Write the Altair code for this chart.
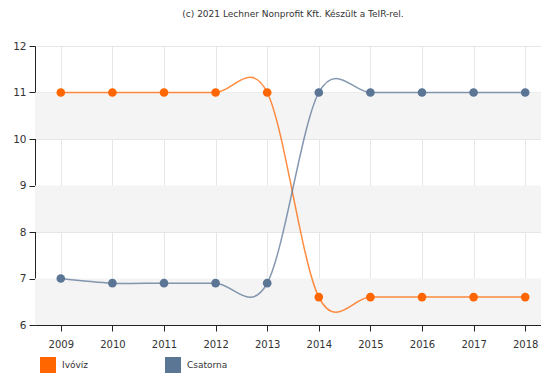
import altair as alt
import pandas as pd

years = ["2009", "2010", "2011", "2012", "2013", "2014", "2015", "2016", "2017", "2018"]
ivoviz = [11, 11, 11, 11, 11, 6.6, 6.6, 6.6, 6.6, 6.6]
csatorna = [7, 6.9, 6.9, 6.9, 6.9, 11, 11, 11, 11, 11]
series = ["Ivóvíz", "Csatorna"]
colors = ["#ff6600", "#5b7595"]
band_lo = [6, 8, 10]
band_hi = [7, 9, 11]
title_text = "(c) 2021 Lechner Nonprofit Kft. Készült a TeIR-rel."

rows = []
for y, a, b in zip(years, ivoviz, csatorna):
    rows.append({"ev": y, "ertek": a, "sor": series[0]})
    rows.append({"ev": y, "ertek": b, "sor": series[1]})
df = pd.DataFrame(rows)
bands = pd.DataFrame({"lo": band_lo, "hi": band_hi})

FONT = "DejaVu Sans"

xenc = alt.X("ev:O", title=None, sort=years,
             scale=alt.Scale(domain=years),
             axis=alt.Axis(labelAngle=0, grid=True, gridColor="#e6e6e6",
                           domainColor="#222", tickColor="#222", tickSize=6,
                           labelPadding=8, labelFontSize=10, labelColor="#333",
                           labelFont=FONT))
yenc = alt.Y("ertek:Q", title=None,
             scale=alt.Scale(domain=[6, 12], nice=False, zero=False),
             axis=alt.Axis(values=[6, 7, 8, 9, 10, 11, 12], grid=True,
                           gridColor="#e6e6e6", domainColor="#222",
                           tickColor="#222", tickSize=6, labelPadding=3,
                           labelFontSize=10.5, labelColor="#333", labelFont=FONT))
cenc_scale = alt.Scale(domain=series, range=colors)

legend = alt.Legend(title=None, orient="none", legendX=5, legendY=311,
                    direction="horizontal", columns=2,
                    symbolType="square", symbolSize=256,
                    symbolStrokeWidth=0, symbolOpacity=1,
                    labelFontSize=9, labelFont=FONT, labelColor="#333",
                    labelOffset=6, columnPadding=62, gridAlign="all",
                    padding=0)

band_layer = alt.Chart(bands).mark_rect(color="#f4f4f4").encode(
    y=alt.Y("lo:Q", scale=alt.Scale(domain=[6, 12], nice=False, zero=False)),
    y2="hi:Q",
    x=alt.value(0),
    x2=alt.value(516),
)

lines = alt.Chart(df).mark_line(interpolate="cardinal", strokeWidth=1.5, opacity=0.75).encode(
    x=xenc, y=yenc,
    color=alt.Color("sor:N", scale=cenc_scale, sort=series, legend=legend),
    detail="sor:N",
)

points = alt.Chart(df).mark_point(filled=True, size=75, opacity=1).encode(
    x=xenc, y=yenc,
    color=alt.Color("sor:N", scale=cenc_scale, sort=series, legend=legend),
)

chart = alt.layer(band_layer, lines, points).resolve_scale(y="shared").properties(
    width=516, height=279,
    autosize=alt.AutoSizeParams(type="none"),
    padding={"left": 27, "top": 38, "right": -10, "bottom": 49},
    title=alt.TitleParams(title_text, fontSize=9, font=FONT, color="#333",
                          fontWeight="normal", anchor="middle", offset=22),
).configure_view(stroke=None)

chart.save("out.html", embed_options={"renderer": "svg", "actions": False})
